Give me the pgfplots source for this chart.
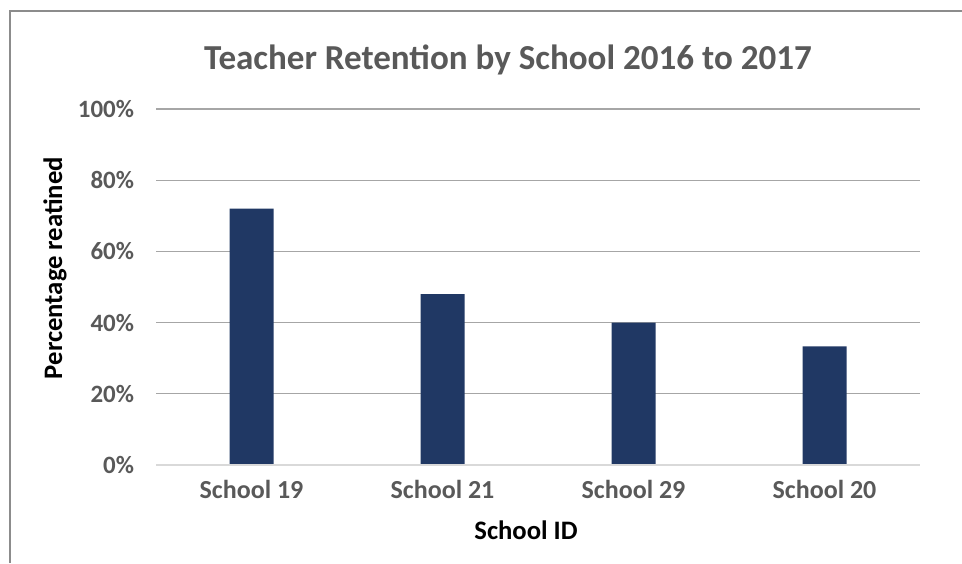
\documentclass[border=0pt]{standalone}
\usepackage{pgfplots}
\pgfplotsset{compat=1.18}
\usepackage{fontspec}
\setmainfont{Carlito}
\definecolor{barc}{HTML}{203864}
\definecolor{txt}{HTML}{595959}
\definecolor{gridc}{HTML}{A6A6A6}
\definecolor{basec}{HTML}{D9D9D9}
\definecolor{framec}{HTML}{8C8C8C}
\begin{document}
\begin{tikzpicture}[x=0.75pt,y=0.75pt]
\path[use as bounding box] (0,0) rectangle (962,563);
\draw[framec, line width=1.5pt] (9.5,0) -- (9.5,551.5) -- (962,551.5);
\begin{axis}[
  at={(117pt,73.5pt)}, anchor=south west,
  scale only axis, width=573pt, height=267pt,
  xmin=-0.5, xmax=3.5, ymin=0, ymax=100,
  ytick={0,20,40,60,80,100},
  yticklabels={0\%,20\%,40\%,60\%,80\%,100\%},
  xtick={0,1,2,3},
  xticklabels={School 19,School 21,School 29,School 20},
  axis line style={draw=none},
  major tick length=0pt,
  ymajorgrids,
  grid style={gridc, line width=0.9pt},
  yticklabel style={font=\bfseries\fontsize{18.7}{20}\selectfont, text=txt, xshift=-13pt},
  xticklabel style={font=\bfseries\fontsize{19.5}{21}\selectfont, text=txt, yshift=-8pt},
  clip=false,
]
\addplot[ybar, bar width=33pt, fill=barc, draw=none] coordinates {(0,72) (1,48) (2,40) (3,33.3)};
\draw[basec, line width=1.5pt] (rel axis cs:0,0) -- (rel axis cs:1,0);
\end{axis}
\node[anchor=base, font=\bfseries\fontsize{26.3}{28}\selectfont, text=txt] at (508,493) {Teacher Retention by School 2016 to 2017};
\node[rotate=90, anchor=center, font=\bfseries\fontsize{20}{22}\selectfont] at (55,295) {Percentage reatined};
\node[anchor=base, font=\bfseries\fontsize{20}{22}\selectfont] at (526,23) {School ID};
\end{tikzpicture}
\end{document}
